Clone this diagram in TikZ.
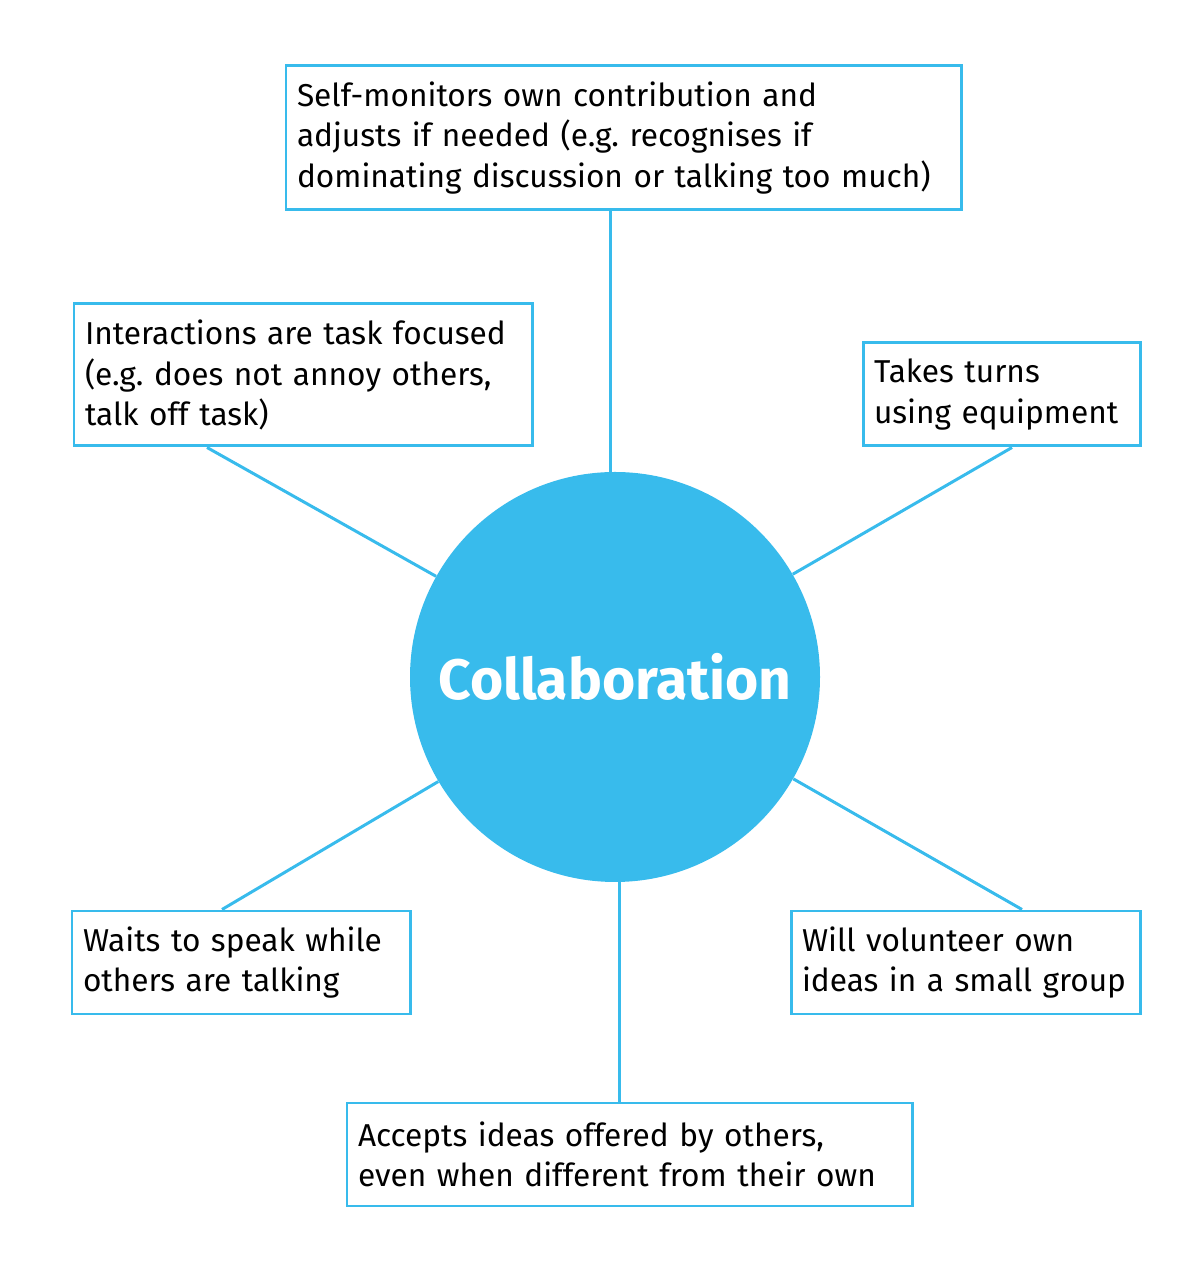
\documentclass[tikz,border=0pt]{standalone}
\usepackage{fontspec}
\setmainfont{Fira Sans}
\usepackage{tikz}
\usetikzlibrary{positioning, calc}
\definecolor{collabblue}{HTML}{38BBEC}
\frenchspacing

\begin{document}
\begin{tikzpicture}[
    idea/.style 2 args={draw=collabblue, line width=1.7pt, fill=white, align=left,
      inner xsep=0.22cm, text width=#1, minimum height=#2, font=\fontsize{18}{22.8}\selectfont},
    hub/.style={circle, fill=collabblue, minimum size=8.2cm, inner sep=0pt,
      text=white, font=\fontsize{32.4}{38}\selectfont\bfseries},
    link/.style={draw=collabblue, line width=1.7pt},
]
\useasboundingbox (0,0) rectangle (24,25.38);

% Centre
\node[hub] (collab) at (12.3, 11.84) {Collaboration};

% Boxes
\node[idea={13.06cm}{2.88cm}] (monitor) at (12.47, 22.62) {Self-monitors own contribution and\\adjusts if needed (e.g. recognises if\\dominating discussion or talking too much)};
\node[idea={8.72cm}{2.84cm}] (focus) at (6.06, 17.88) {Interactions are task focused\\(e.g. does not annoy others,\\talk off task)};
\node[idea={5.1cm}{2.06cm}] (turns) at (20.03, 17.49) {Takes turns\\using equipment};
\node[idea={6.32cm}{2.06cm}] (waits) at (4.82, 6.13) {Waits to speak while\\others are talking};
\node[idea={6.54cm}{2.06cm}] (volunteer) at (19.31, 6.13) {Will volunteer own\\ideas in a small group};
\node[idea={10.86cm}{2.06cm}] (accepts) at (12.59, 2.29) {Accepts ideas offered by others,\\even when different from their own};

% Connections
\draw[link] ([xshift=-0.1cm]collab.north) -- ([xshift=-0.1cm]collab.north |- monitor.south);
\draw[link] ([xshift=-1.92cm]focus.south) -- (collab);
\draw[link] ([xshift=0.21cm]turns.south) -- (collab);
\draw[link] ([xshift=-0.38cm]waits.north) -- (collab);
\draw[link] ([xshift=1.13cm]volunteer.north) -- (collab);
\draw[link] ([xshift=0.08cm]collab.south) -- ([xshift=0.08cm]collab.south |- accepts.north);

\end{tikzpicture}
\end{document}
